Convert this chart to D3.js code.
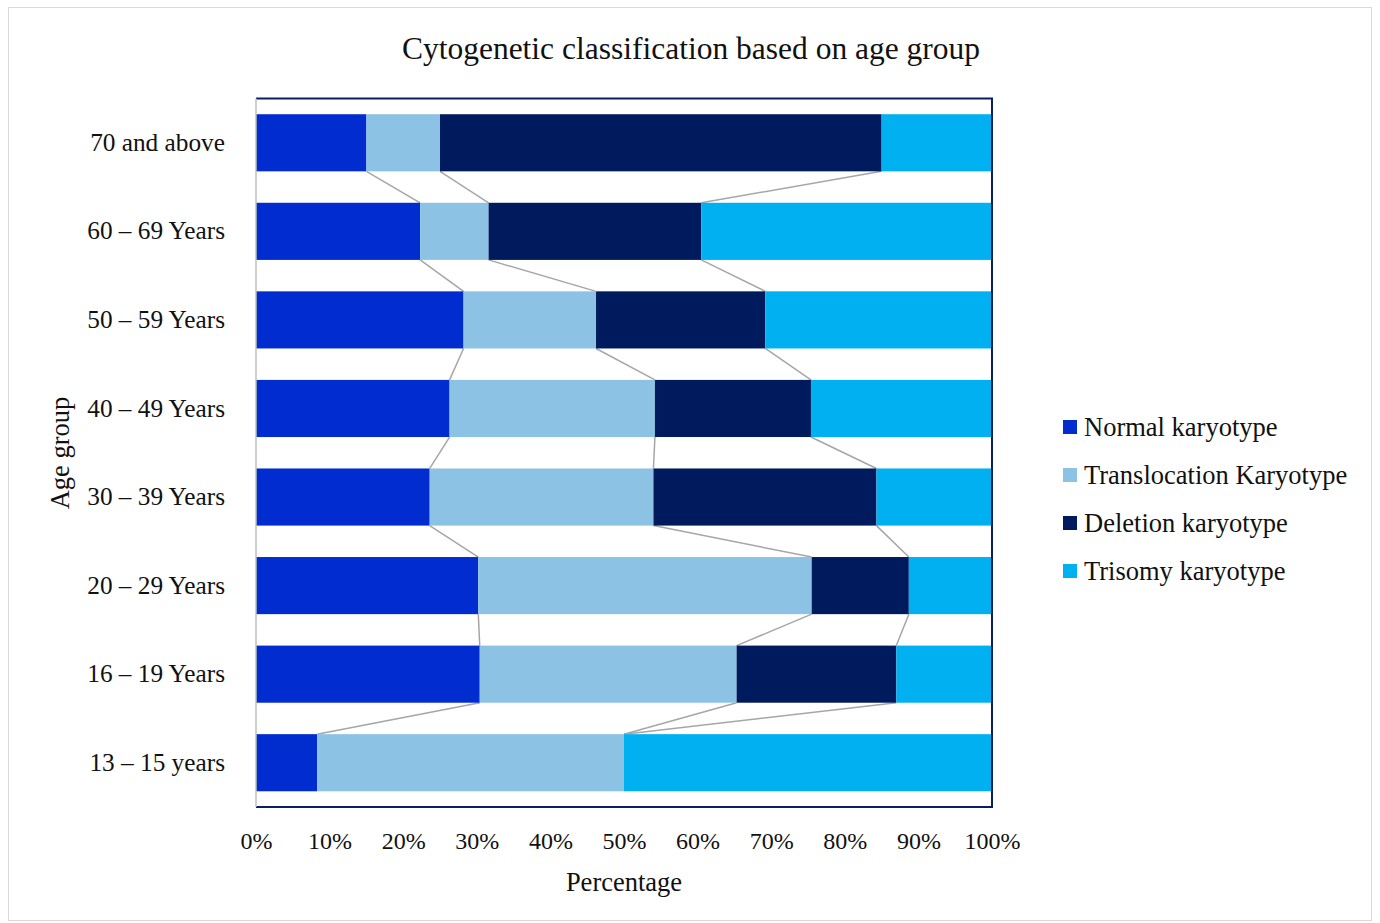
<!DOCTYPE html>
<html>
<head>
<meta charset="utf-8">
<script src="https://cdn.jsdelivr.net/npm/d3@7"></script>
<style>
  html, body { margin: 0; padding: 0; background: #fff; }
  svg { display: block; font-family: "Liberation Serif", "DejaVu Serif", serif; }
</style>
</head>
<body>
<svg id="chart" width="1380" height="923"></svg>
<script>
// Age groups, listed top to bottom as displayed
const ageGroups = ["70 and above", "60 – 69 Years", "50 – 59 Years", "40 – 49 Years",
                   "30 – 39 Years", "20 – 29 Years", "16 – 19 Years", "13 – 15 years"];

// Share of each karyotype per age group (%)
const normalKaryotype        = [15.0, 22.3, 28.2, 26.3, 23.6, 30.2, 30.4, 8.3];
const translocationKaryotype = [10.0,  9.3, 18.0, 27.9, 30.4, 45.3, 34.9, 41.7];
const deletionKaryotype      = [60.0, 28.9, 23.0, 21.2, 30.3, 13.2, 21.7, 0.0];
const trisomyKaryotype       = [15.0, 39.5, 30.8, 24.6, 15.7, 11.3, 13.0, 50.0];

const seriesNames  = ["Normal karyotype", "Translocation Karyotype", "Deletion karyotype", "Trisomy karyotype"];
const seriesColors = ["#002CD0", "#8CC3E5", "#001A5E", "#00B0F0"];
const xTicks = [0, 10, 20, 30, 40, 50, 60, 70, 80, 90, 100];

const rows = ageGroups.map((g, i) => ({
  group: g,
  "Normal karyotype": normalKaryotype[i],
  "Translocation Karyotype": translocationKaryotype[i],
  "Deletion karyotype": deletionKaryotype[i],
  "Trisomy karyotype": trisomyKaryotype[i]
}));

const svg = d3.select("#chart");
const W = 1380, H = 923;
const plot = { left: 256, right: 992, top: 98.5, bottom: 807 };
const labelSize = 26.5;

// Outer chart frame
svg.append("rect").attr("x", 8.5).attr("y", 7.5).attr("width", W - 17).attr("height", H - 10)
  .attr("fill", "#fff").attr("stroke", "#D9D9D9").attr("stroke-width", 1);

const x = d3.scaleLinear().domain([0, 100]).range([plot.left, plot.right]);
const y = d3.scaleBand().domain(ageGroups).range([plot.top, plot.bottom]).paddingInner(0.355).paddingOuter(0.1775);

// Stacked (100%) layout
const stack = d3.stack().keys(seriesNames);
const layers = stack(rows);

// Series connector lines between adjacent bars
const connectors = svg.append("g").attr("stroke", "#A6A6A6").attr("stroke-width", 1.5).attr("fill", "none");
for (let k = 0; k < 3; k++) {
  const layer = layers[k];
  for (let i = 0; i < ageGroups.length - 1; i++) {
    const a = layer[i][1], b = layer[i + 1][1];
    connectors.append("line")
      .attr("x1", x(a)).attr("y1", y(ageGroups[i]) + y.bandwidth())
      .attr("x2", x(b)).attr("y2", y(ageGroups[i + 1]));
  }
}

// Bars
svg.append("g").selectAll("g").data(layers).join("g")
  .attr("fill", (d, i) => seriesColors[i])
  .selectAll("rect").data(d => d).join("rect")
  .attr("x", d => x(d[0]))
  .attr("y", d => y(d.data.group))
  .attr("width", d => Math.max(0, x(d[1]) - x(d[0])))
  .attr("height", y.bandwidth());

// Plot frame: navy top/right/bottom, grey category axis on the left
const frame = svg.append("g").attr("fill", "none");
frame.append("path")
  .attr("d", `M${plot.left},${plot.top} H${plot.right} V${plot.bottom} H${plot.left}`)
  .attr("stroke", "#0A1E64").attr("stroke-width", 2);
frame.append("line")
  .attr("x1", plot.left).attr("x2", plot.left).attr("y1", plot.top).attr("y2", plot.bottom)
  .attr("stroke", "#BFBFBF").attr("stroke-width", 1.5);

// Category axis labels
const yAxis = d3.axisLeft(y).tickSize(0).tickPadding(31);
const yg = svg.append("g").attr("transform", `translate(${plot.left},0)`).call(yAxis);
yg.select(".domain").remove();
yg.selectAll("text").attr("font-family", "Liberation Serif, serif").attr("font-size", 25.3).attr("fill", "#111");

// Value axis labels
const xAxis = d3.axisBottom(x).tickValues(xTicks).tickFormat(d => d + "%").tickSize(0).tickPadding(25);
const xg = svg.append("g").attr("transform", `translate(0,${plot.bottom})`).call(xAxis);
xg.select(".domain").remove();
xg.selectAll("text").attr("font-family", "Liberation Serif, serif").attr("font-size", 24).attr("fill", "#111");

// Titles
svg.append("text").attr("x", 691).attr("y", 59).attr("text-anchor", "middle")
  .attr("font-size", 31.5).attr("fill", "#111").text("Cytogenetic classification based on age group");
svg.append("text").attr("x", 624).attr("y", 891).attr("text-anchor", "middle")
  .attr("font-size", labelSize).attr("fill", "#111").text("Percentage");
svg.append("text").attr("transform", "translate(69,453) rotate(-90)").attr("text-anchor", "middle")
  .attr("font-size", labelSize).attr("fill", "#111").text("Age group");

// Legend
const legend = svg.append("g").attr("transform", "translate(1063,420)");
const items = legend.selectAll("g").data(seriesNames).join("g")
  .attr("transform", (d, i) => `translate(0,${i * 48})`);
items.append("rect").attr("width", 14).attr("height", 14).attr("fill", (d, i) => seriesColors[i]);
items.append("text").attr("x", 21).attr("y", 16).attr("font-size", labelSize).attr("fill", "#111").text(d => d);
</script>
</body>
</html>
